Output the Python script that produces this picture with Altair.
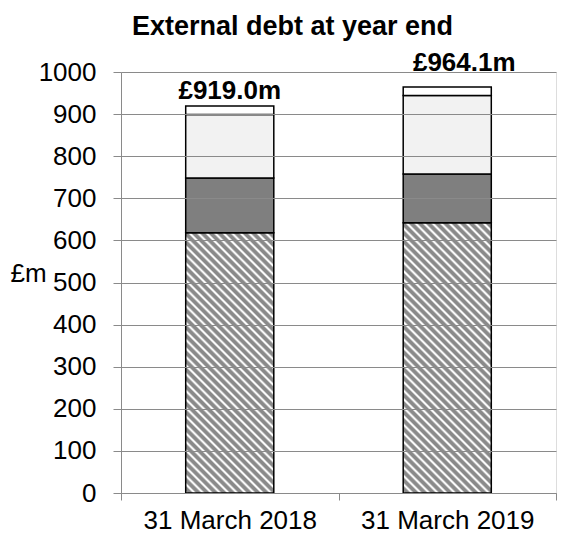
import altair as alt
import pandas as pd

# ---- data ----
dates = ["31 March 2018", "31 March 2019"]
segments = ["hatched", "dark", "light", "white"]
hatched = [618.0, 642.0]
dark = [130.0, 116.0]
light = [151.0, 186.0]
white = [20.0, 20.1]
totals = [919.0, 964.1]
total_labels = ["£919.0m", "£964.1m"]
y_ticks = list(range(0, 1001, 100))

# ---- layout / style ----
PLOT_W, PLOT_H = 435, 421
Y_MAX = 1000
FONT = "Liberation Sans"
GRAY = "#8a8a8a"
seg_colors = ["#bbbbbb", "#7f7f7f", "#f2f2f2", "#ffffff"]

rows = []
for i, d in enumerate(dates):
    for j, (s, vals) in enumerate(zip(segments, [hatched, dark, light, white])):
        rows.append({"date": d, "segment": s, "order": j, "value": vals[i]})
df = pd.DataFrame(rows)
lab_df = pd.DataFrame({"date": dates, "total": totals, "label": total_labels})


def stripe_gradient(value, band_frac=0.405, period=8.5):
    """Diagonal hatch (\\\\ direction) made of a linear gradient in bbox units."""
    w = PLOT_W / len(dates) * band_frac
    h = value / Y_MAX * PLOT_H
    k = (w + h) / (w * w + h * h)
    n = max(1, int(round((w + h) / period)))
    stops = []
    for p in range(n):
        base = p / n
        stops.append({"offset": base, "color": "#ffffff"})
        stops.append({"offset": base + 0.10 / n, "color": "#ffffff"})
        stops.append({"offset": base + 0.35 / n, "color": GRAY})
        stops.append({"offset": base + 0.75 / n, "color": GRAY})
    stops.append({"offset": 1.0, "color": "#ffffff"})
    return {"gradient": "linear", "x1": 0, "y1": 1, "x2": k * w, "y2": 1 - k * h,
            "stops": stops}


conds = [
    {"test": f"datum.segment == 'hatched' && datum.date == '{d}'",
     "value": stripe_gradient(hatched[i])}
    for i, d in enumerate(dates)
]

x_enc = alt.X("date:N", sort=dates, title=None,
              scale=alt.Scale(paddingInner=0, paddingOuter=0),
              axis=alt.Axis(labelAngle=0, labelFontSize=26, labelColor="black",
                            labelFont=FONT, tickBand="extent", tickSize=7,
                            tickColor=GRAY, domainColor=GRAY, labelPadding=7,
                            grid=False))

bars = alt.Chart(df).mark_bar(
    width=alt.RelativeBandSize(0.405), stroke="black", strokeWidth=1.5
).encode(
    x=x_enc,
    y=alt.Y("value:Q", stack="zero",
            scale=alt.Scale(domain=[0, Y_MAX], nice=False),
            axis=alt.Axis(values=y_ticks, format="d", labelFontSize=26,
                          labelFont=FONT, labelColor="black", tickSize=8,
                          tickColor=GRAY, domainColor=GRAY, gridColor=GRAY,
                          labelPadding=17, title="£m", titleAngle=0,
                          titleFontSize=26, titleFont=FONT,
                          titleFontWeight="normal", titleColor="black",
                          titleAlign="left", titleBaseline="alphabetic",
                          titleX=-111, titleY=209, zindex=1)),
    order=alt.Order("order:Q"),
    fill=alt.Fill("segment:N", scale=alt.Scale(domain=segments, range=seg_colors),
                  legend=None, condition=conds),
)

text_style = dict(font=FONT, fontSize=26, fontWeight="bold", baseline="alphabetic",
                  align="center", color="black")
lab1 = alt.Chart(lab_df).transform_filter(alt.datum.date == dates[0]).mark_text(
    dy=-7, **text_style).encode(x=alt.X("date:N", sort=dates), y="total:Q", text="label:N")
lab2 = alt.Chart(lab_df).transform_filter(alt.datum.date == dates[1]).mark_text(
    dy=-16, dx=17, **text_style).encode(x=alt.X("date:N", sort=dates), y="total:Q", text="label:N")

chart = alt.layer(bars, lab1, lab2).properties(
    width=PLOT_W, height=PLOT_H,
    title=alt.TitleParams("External debt at year end", font=FONT, fontSize=27,
                          fontWeight="bold", color="black", anchor="middle",
                          frame="group", baseline="alphabetic", offset=17,
                          dx=-46, dy=29),
    autosize=alt.AutoSizeParams(type="none"),
    padding={"left": 113, "top": 64, "right": 1, "bottom": 41},
).configure_view(stroke="black", strokeWidth=1.5).configure(background="white")

chart.save("out.html", embed_options={"renderer": "svg", "actions": False})
